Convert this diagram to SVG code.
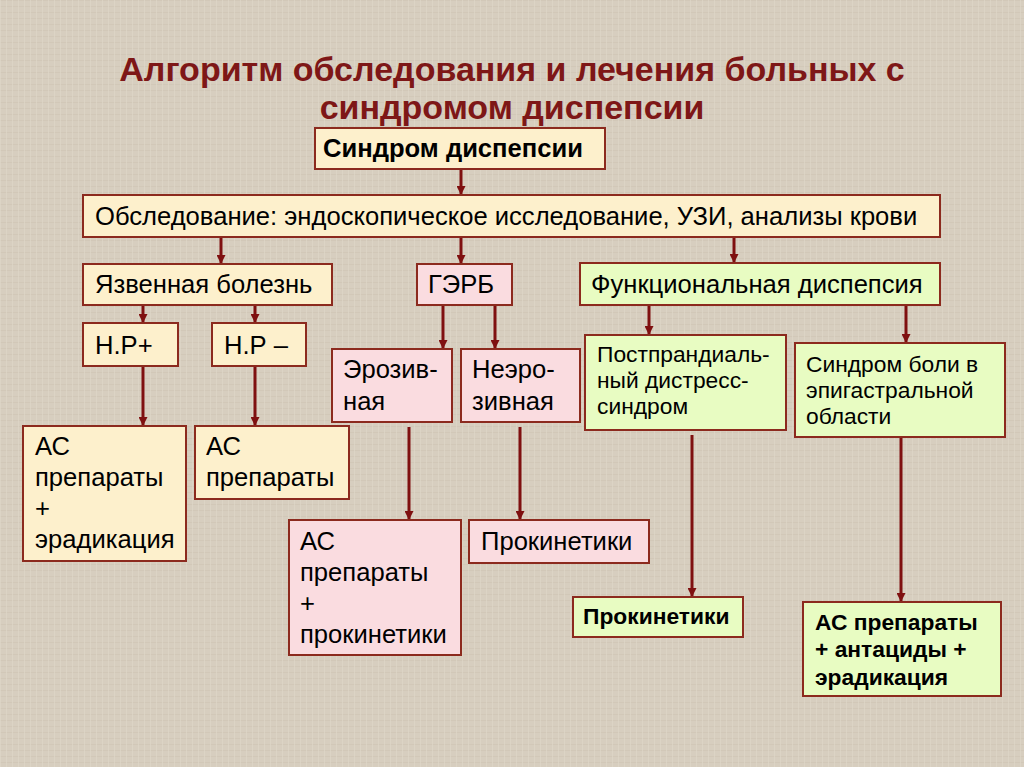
<svg xmlns="http://www.w3.org/2000/svg" width="1024" height="767" viewBox="0 0 1024 767">
<style>
.bg{fill:#d7cebf}
.box{stroke:#8c2a1e;stroke-width:2}
.cream{fill:#fdf0cc}
.pink{fill:#fadce0}
.green{fill:#e8fcc2}
.t{font-family:"Liberation Sans",Arial,sans-serif;fill:#000}
.n{font-size:25.6px}
.s{font-size:22.8px}
.b{font-weight:bold}
.title{font-family:"Liberation Sans",Arial,sans-serif;font-weight:bold;font-size:34px;fill:#7e1717;text-anchor:middle}
.con{stroke:#7f1010;stroke-width:3;fill:none}
</style>
<defs>
<pattern id="tex" width="6" height="6" patternUnits="userSpaceOnUse">
<rect width="6" height="6" fill="#d7cebf"/>
<rect x="0" y="0" width="6" height="1" fill="#cfc5b4" opacity="0.6"/>
<rect x="0" y="0" width="1" height="6" fill="#e0d8ca" opacity="0.6"/>
</pattern>
<marker id="ah" viewBox="0 0 10 10" refX="10" refY="5" markerWidth="9" markerHeight="9" markerUnits="userSpaceOnUse" orient="auto">
<path d="M0,0 L10,5 L0,10 z" fill="#7f1010"/>
</marker>
</defs>
<rect width="1024" height="767" fill="url(#tex)"/>
<g id="title">
<text class="title" x="512" y="81">Алгоритм обследования и лечения больных с</text>
<text class="title" x="512" y="119">синдромом диспепсии</text>
</g>
<g id="connectors">
<line class="con" x1="461" y1="169" x2="461" y2="195" marker-end="url(#ah)"/>
<line class="con" x1="221" y1="237" x2="221" y2="264" marker-end="url(#ah)"/>
<line class="con" x1="461" y1="237" x2="461" y2="264" marker-end="url(#ah)"/>
<line class="con" x1="734" y1="237" x2="734" y2="263" marker-end="url(#ah)"/>
<line class="con" x1="143" y1="305" x2="143" y2="323" marker-end="url(#ah)"/>
<line class="con" x1="255" y1="305" x2="255" y2="323" marker-end="url(#ah)"/>
<line class="con" x1="443" y1="305" x2="443" y2="349" marker-end="url(#ah)"/>
<line class="con" x1="495" y1="305" x2="495" y2="349" marker-end="url(#ah)"/>
<line class="con" x1="649" y1="305" x2="649" y2="335" marker-end="url(#ah)"/>
<line class="con" x1="906" y1="305" x2="906" y2="343" marker-end="url(#ah)"/>
<line class="con" x1="143" y1="366" x2="143" y2="426" marker-end="url(#ah)"/>
<line class="con" x1="255" y1="366" x2="255" y2="426" marker-end="url(#ah)"/>
<line class="con" x1="409" y1="427" x2="409" y2="520" marker-end="url(#ah)"/>
<line class="con" x1="520" y1="427" x2="520" y2="520" marker-end="url(#ah)"/>
<line class="con" x1="692" y1="435" x2="692" y2="597" marker-end="url(#ah)"/>
<line class="con" x1="901" y1="432" x2="901" y2="602" marker-end="url(#ah)"/>
</g>
<g id="n-sindrom">
<rect class="box cream" x="315" y="128" width="290" height="41"/>
<text class="t b n" x="323" y="157">Синдром диспепсии</text>
</g>
<g id="n-obsled">
<rect class="box cream" x="83" y="195" width="857" height="42"/>
<text class="t n" x="95" y="225">Обследование: эндоскопическое исследование, УЗИ, анализы крови</text>
</g>
<g id="n-yazv">
<rect class="box cream" x="83" y="264" width="249" height="41"/>
<text class="t n" x="95" y="293">Язвенная болезнь</text>
</g>
<g id="n-gerb">
<rect class="box pink" x="417" y="264" width="95" height="41"/>
<text class="t n" x="428" y="293">ГЭРБ</text>
</g>
<g id="n-func">
<rect class="box green" x="580" y="263" width="360" height="42"/>
<text class="t n" x="591" y="293">Функциональная диспепсия</text>
</g>
<g id="n-hp-plus">
<rect class="box cream" x="83" y="323" width="95" height="43"/>
<text class="t n" x="95" y="354">Н.Р+</text>
</g>
<g id="n-hp-minus">
<rect class="box cream" x="212" y="323" width="94" height="43"/>
<text class="t n" x="224" y="354">Н.Р –</text>
</g>
<g id="n-eroz">
<rect class="box pink" x="332" y="349" width="120" height="73"/>
<text class="t n" x="343" y="378">Эрозив-</text>
<text class="t n" x="343" y="410">ная</text>
</g>
<g id="n-neeroz">
<rect class="box pink" x="461" y="349" width="119" height="73"/>
<text class="t n" x="472" y="378">Неэро-</text>
<text class="t n" x="472" y="410">зивная</text>
</g>
<g id="n-postpr">
<rect class="box green" x="585" y="335" width="201" height="95"/>
<text class="t s" x="597" y="362">Постпрандиаль-</text>
<text class="t s" x="597" y="388">ный дистресс-</text>
<text class="t s" x="597" y="414">синдром</text>
</g>
<g id="n-bol">
<rect class="box green" x="795" y="343" width="210" height="94"/>
<text class="t s" x="806" y="372">Синдром боли в</text>
<text class="t s" x="806" y="398">эпигастральной</text>
<text class="t s" x="806" y="424">области</text>
</g>
<g id="n-as-erad">
<rect class="box cream" x="23" y="426" width="163" height="135"/>
<text class="t n" x="35" y="455">АС</text>
<text class="t n" x="35" y="486">препараты</text>
<text class="t n" x="35" y="517">+</text>
<text class="t n" x="35" y="548">эрадикация</text>
</g>
<g id="n-as">
<rect class="box cream" x="195" y="426" width="154" height="73"/>
<text class="t n" x="206" y="455">АС</text>
<text class="t n" x="206" y="486">препараты</text>
</g>
<g id="n-as-prok">
<rect class="box pink" x="289" y="520" width="172" height="135"/>
<text class="t n" x="300" y="550">АС</text>
<text class="t n" x="300" y="581">препараты</text>
<text class="t n" x="300" y="612">+</text>
<text class="t n" x="300" y="643">прокинетики</text>
</g>
<g id="n-prok-pink">
<rect class="box pink" x="469" y="520" width="180" height="43"/>
<text class="t n" x="481" y="550">Прокинетики</text>
</g>
<g id="n-prok-green">
<rect class="box green" x="573" y="597" width="170" height="40"/>
<text class="t s b" x="583" y="624">Прокинетики</text>
</g>
<g id="n-as-ant">
<rect class="box green" x="803" y="602" width="198" height="94"/>
<text class="t s b" x="815" y="630">АС препараты</text>
<text class="t s b" x="815" y="657">+ антациды +</text>
<text class="t s b" x="815" y="685">эрадикация</text>
</g>
</svg>
